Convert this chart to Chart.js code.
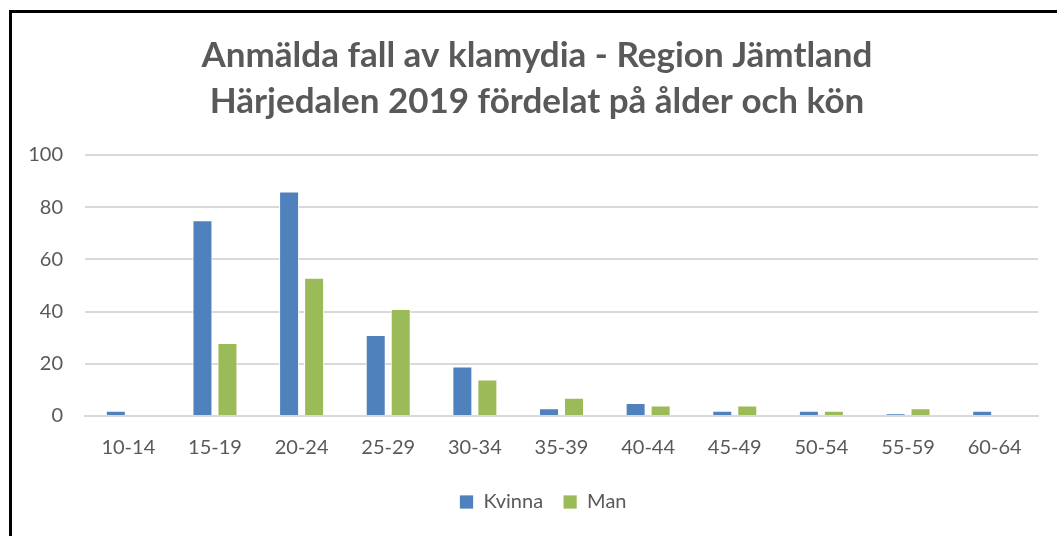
<!DOCTYPE html>
<html><head><meta charset="utf-8">
<script src="https://cdn.jsdelivr.net/npm/chart.js@4.4.1/dist/chart.umd.min.js"></script>
<style>
html,body{margin:0;padding:0;background:#fff;overflow:hidden}
#wrap{position:absolute;left:0;top:0;width:1057px;height:536px}
#frame{position:absolute;left:9px;top:10px;width:1100px;height:600px;border-left:3px solid #000;border-top:3px solid #000;pointer-events:none}
</style></head><body>
<div id="wrap"><canvas id="c" width="1057" height="536"></canvas></div>
<div id="frame"></div>
<script>
const categories = ["10-14","15-19","20-24","25-29","30-34","35-39","40-44","45-49","50-54","55-59","60-64"];
const kvinna = [2,75,86,31,19,3,5,2,2,1,2];
const man = [0,28,53,41,14,7,4,4,2,3,0];
const titleLines = ["Anmälda fall av klamydia - Region Jämtland","Härjedalen 2019 fördelat på ålder och kön"];
const seriesNames = ["Kvinna","Man"];

Chart.defaults.font.family = "Lato, 'Open Sans', sans-serif";
Chart.defaults.color = "#595959";
const shiftBlocks = {
  id:'shiftBlocks',
  afterLayout(chart){
    const t = chart.titleBlock;
    if (t){ t.left = 36; t.width = t.right - t.left; }
    const l = chart.legend;
    if (l && typeof l.adjustHitBoxes === 'function'){
      l.left = 48; l.width = l.right - l.left;
      l.adjustHitBoxes();
    }
  }
};
new Chart(document.getElementById('c'), {
  type: 'bar',
  data: {
    labels: categories,
    datasets: [
      {label: seriesNames[0], data: kvinna, backgroundColor: '#4F81BD', borderColor:'#ffffff', borderWidth:{left:1,right:1,top:1,bottom:0}, categoryPercentage:0.577, barPercentage:0.8},
      {label: seriesNames[1], data: man, backgroundColor: '#9BBB59', borderColor:'#ffffff', borderWidth:{left:1,right:1,top:1,bottom:0}, categoryPercentage:0.577, barPercentage:0.8}
    ]
  },
  plugins:[shiftBlocks],
  options: {
    responsive:false, animation:false,
    layout:{padding:{left:20,right:19,top:33,bottom:14}},
    plugins:{
      title:{display:true,text:titleLines,font:{size:35,weight:'bold',lineHeight:1.3},color:'#595959',padding:{top:0,bottom:31}},
      legend:{position:'bottom',labels:{boxWidth:14,boxHeight:14,font:{size:20},color:'#595959',padding:20},padding:{top:2}},
      tooltip:{enabled:false}
    },
    scales:{
      x:{grid:{display:false},border:{display:true,color:'#d9d9d9',width:2},ticks:{font:{size:20},color:'#595959',padding:12}},
      y:{min:0,max:100,ticks:{stepSize:20,font:{size:20},color:'#595959',padding:22},grid:{color:'#d9d9d9',lineWidth:2,drawTicks:false},border:{display:false},
         afterFit:(axis)=>{axis.width=65;}}
    }
  }
});
</script>
</body></html>
